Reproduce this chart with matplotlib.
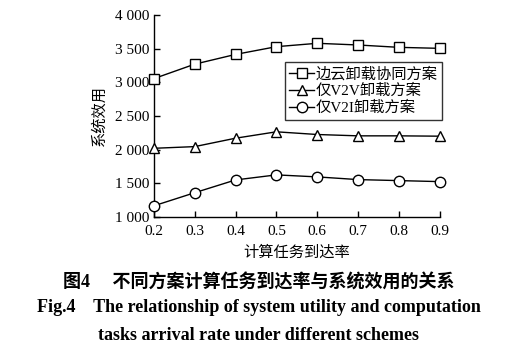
import matplotlib.pyplot as plt
from matplotlib.ticker import FuncFormatter

plt.rcParams['font.family'] = ['Liberation Serif', 'Noto Sans CJK SC']

# data
rate = [0.2, 0.3, 0.4, 0.5, 0.6, 0.7, 0.8, 0.9]
edge_cloud = [3055, 3270, 3415, 3530, 3580, 3555, 3520, 3505]
v2v_only = [2020, 2045, 2170, 2265, 2225, 2205, 2205, 2200]
v2i_only = [1165, 1360, 1550, 1625, 1595, 1555, 1540, 1525]

labels = ['边云卸载协同方案', '仅V2V卸载方案', '仅V2I卸载方案']

fig = plt.figure(figsize=(5.18, 3.58), dpi=100)
ax = fig.add_axes([0.297, 0.394, 0.552, 0.564])

mk = dict(color='black', lw=1.0, markersize=7.5, markerfacecolor='white',
          markeredgewidth=1.0, clip_on=False, zorder=3)
ax.plot(rate, edge_cloud, marker='s', label=labels[0], **mk)
ax.plot(rate, v2v_only, marker='^', label=labels[1], **mk)
ax.plot(rate, v2i_only, marker='o', label=labels[2], **mk)

ax.set_xlim(0.2, 0.9)
ax.set_ylim(1000, 4000)
ax.set_xticks(rate)
ax.set_yticks([1000, 1500, 2000, 2500, 3000, 3500, 4000])
ax.yaxis.set_major_formatter(FuncFormatter(lambda v, p: f'{int(v):,}'.replace(',', ' ')))
ax.xaxis.set_major_formatter(FuncFormatter(lambda v, p: f'{v:.1f}'))
ax.tick_params(direction='in', length=4, width=1, labelsize=11)
ax.tick_params(axis='x', pad=6)
ax.tick_params(axis='y', pad=3)
for s in ['top', 'right']:
    ax.spines[s].set_visible(False)
for s in ['left', 'bottom']:
    ax.spines[s].set_linewidth(1.0)

ax.set_xlabel('计算任务到达率', fontsize=11, labelpad=5)
ax.set_ylabel('系统效用', fontsize=11, labelpad=6)

leg = ax.legend(loc='upper left', bbox_to_anchor=(0.458, 0.765), fontsize=11,
                frameon=True, fancybox=False, edgecolor='black', handlelength=1.6,
                handletextpad=0.1, borderpad=0.3, labelspacing=0.15, borderaxespad=0)
leg.get_frame().set_linewidth(1.0)

fig.text(0.5, 0.21, '图4\u3000 不同方案计算任务到达率与系统效用的关系', ha='center', va='center',
         fontsize=13, fontweight='bold')
fig.text(0.5, 0.14, 'Fig.4    The relationship of system utility and computation',
         ha='center', va='center', fontsize=13, fontweight='bold')
fig.text(0.5, 0.062, 'tasks arrival rate under different schemes',
         ha='center', va='center', fontsize=13, fontweight='bold')

fig.savefig('out.png', dpi=100)
